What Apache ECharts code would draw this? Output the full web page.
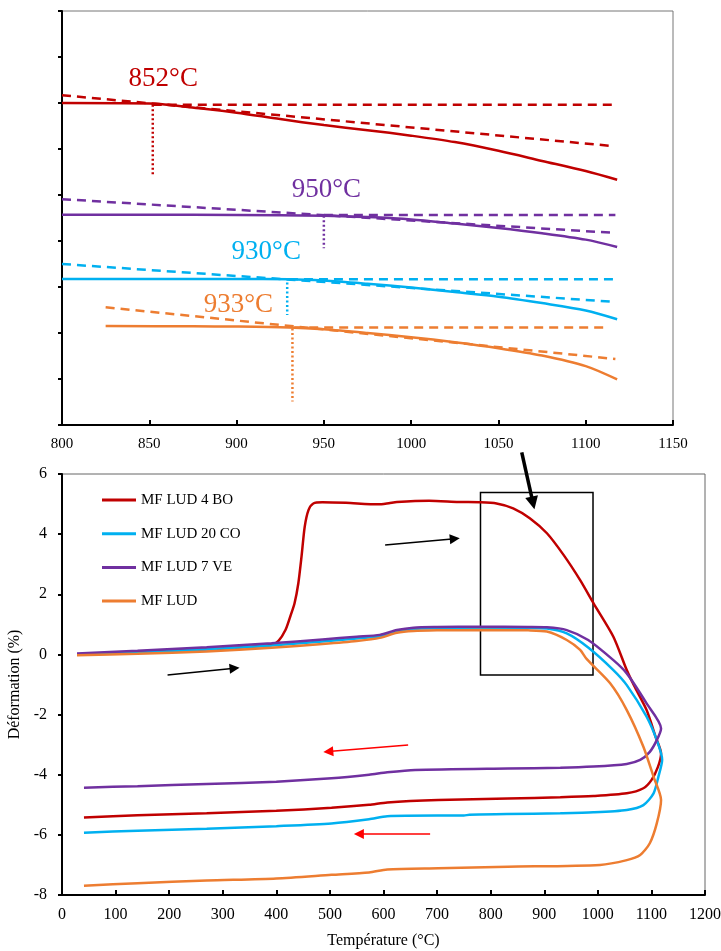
<!DOCTYPE html>
<html><head><meta charset="utf-8">
<script src="https://cdn.jsdelivr.net/npm/echarts/dist/echarts.min.js"></script>
<style>html,body{margin:0;padding:0;background:#fff}#c{width:721px;height:951px}</style>
</head><body><div id="c"></div>
<script>
// ---------- Top chart: zoom of the transition region (offset curves) ----------
const zoomTicks = [800, 850, 900, 950, 1000, 1050, 1100, 1150];
const zRedT = [800, 850, 880, 900, 925, 950, 975, 1000, 1025, 1050, 1075, 1100, 1118];
const zRedV = [7.00, 6.99, 6.88, 6.79, 6.65, 6.52, 6.41, 6.29, 6.15, 5.96, 5.74, 5.52, 5.33];
const zPurT = [800, 850, 900, 950, 975, 1000, 1025, 1050, 1075, 1100, 1118];
const zPurV = [4.57, 4.57, 4.565, 4.55, 4.52, 4.47, 4.38, 4.285, 4.17, 4.03, 3.87];
const zCyaT = [800, 850, 900, 930, 950, 975, 1000, 1025, 1050, 1075, 1100, 1118];
const zCyaV = [3.175, 3.175, 3.175, 3.17, 3.14, 3.07, 2.99, 2.89, 2.79, 2.65, 2.49, 2.30];
const zOraT = [825, 875, 900, 930, 950, 975, 1000, 1025, 1050, 1075, 1100, 1118];
const zOraV = [2.15, 2.145, 2.14, 2.12, 2.08, 2.00, 1.91, 1.80, 1.67, 1.51, 1.28, 0.99];
// sloped tangents (start / end)
const slopeT = [[800, 1114], [800, 1115], [800, 1115], [825, 1117]];
const slopeV = [[7.17, 6.07], [4.91, 4.18], [3.50, 2.68], [2.56, 1.435]];
// horizontal tangents
const flatT = [[852, 1117], [950, 1117], [930, 1117], [933, 1112]];
const flatV = [6.96, 4.565, 3.167, 2.12];
// dotted onset markers
const onsetT = [852, 950, 929, 932];
const onsetTopV = [6.96, 4.55, 3.10, 2.10];
const onsetBotV = [5.43, 3.84, 2.39, 0.51];
const onsetLabels = ['852°C', '950°C', '930°C', '933°C'];
const labelT = [858, 951.5, 917, 901];
const labelV = [7.52, 5.11, 3.77, 2.61];

// ---------- Bottom chart: dilatometry curves ----------
const names = ['MF LUD 4 BO', 'MF LUD 20 CO', 'MF LUD 7 VE', 'MF LUD'];
const colors = ['#C00000', '#00B0F0', '#7030A0', '#ED7D31'];
const redT = [28, 100, 200, 300, 391, 404, 417, 426, 434, 441, 447, 453, 460, 469, 486, 530, 590, 610, 625, 685, 740, 780, 811, 842, 873, 905, 936, 967, 992, 1029, 1054, 1068, 1091, 1108, 1118, 1112, 1100, 1085, 1054, 992, 930, 832, 702, 607, 573, 503, 400, 270, 141, 41];
const redV = [0.0, 0.05, 0.12, 0.2, 0.31, 0.45, 0.81, 1.26, 1.70, 2.36, 3.25, 4.25, 4.8, 5.02, 5.06, 5.04, 4.99, 5.03, 5.07, 5.11, 5.07, 5.06, 5.02, 4.86, 4.53, 4.03, 3.31, 2.47, 1.70, 0.59, -0.52, -1.05, -1.85, -2.75, -3.30, -3.75, -4.18, -4.45, -4.62, -4.71, -4.75, -4.79, -4.84, -4.92, -5.0, -5.1, -5.2, -5.28, -5.35, -5.42];
const cyaT = [28, 141, 270, 391, 486, 550, 593, 625, 656, 700, 780, 870, 905, 942, 982, 1029, 1054, 1091, 1110, 1120, 1113, 1104, 1085, 1054, 992, 930, 830, 760, 750, 700, 607, 573, 503, 400, 270, 141, 41];
const cyaV = [0.0, 0.06, 0.17, 0.3, 0.43, 0.53, 0.60, 0.77, 0.85, 0.87, 0.88, 0.88, 0.86, 0.70, 0.23, -0.52, -1.02, -2.07, -2.85, -3.50, -4.07, -4.62, -5.01, -5.17, -5.25, -5.28, -5.31, -5.33, -5.36, -5.36, -5.38, -5.48, -5.62, -5.71, -5.8, -5.86, -5.93];
const purT = [28, 141, 270, 391, 486, 550, 593, 625, 656, 700, 780, 870, 905, 942, 982, 1029, 1054, 1091, 1118, 1110, 1097, 1079, 1054, 992, 930, 832, 659, 607, 573, 503, 400, 270, 141, 41];
const purV = [0.03, 0.12, 0.24, 0.37, 0.5, 0.59, 0.65, 0.81, 0.89, 0.91, 0.92, 0.91, 0.90, 0.81, 0.48, -0.19, -0.63, -1.63, -2.46, -2.85, -3.24, -3.51, -3.64, -3.73, -3.77, -3.79, -3.84, -3.92, -4.0, -4.12, -4.23, -4.31, -4.38, -4.43];
const oraT = [28, 141, 270, 391, 486, 550, 593, 625, 656, 700, 780, 870, 905, 942, 967, 979, 1023, 1054, 1085, 1104, 1118, 1110, 1097, 1079, 1054, 1004, 832, 702, 607, 573, 503, 400, 270, 141, 41];
const oraV = [-0.03, 0.02, 0.1, 0.22, 0.35, 0.45, 0.55, 0.72, 0.78, 0.80, 0.81, 0.80, 0.76, 0.48, 0.15, -0.15, -0.96, -1.85, -3.07, -4.07, -4.84, -5.62, -6.28, -6.67, -6.84, -7.0, -7.06, -7.11, -7.15, -7.25, -7.33, -7.45, -7.52, -7.61, -7.69];
const xTicks = [0, 100, 200, 300, 400, 500, 600, 700, 800, 900, 1000, 1100, 1200];
const yTicks = [-8, -6, -4, -2, 0, 2, 4, 6];
// annotations (data units of the bottom chart)
const zoomBoxT = [781, 991];
const zoomBoxV = [5.39, -0.68];
const heatArrowsT = [[197, 322], [603, 733]];
const heatArrowsV = [[-0.68, -0.46], [3.64, 3.85]];
const coolArrowsT = [[646, 497], [687, 554]];
const coolArrowsV = [[-3.01, -3.23], [-5.97, -5.97]];
const bigArrowT = [858, 879];
const bigArrowV = [6.72, 5.04];

const FONT = '"Liberation Serif", "Times New Roman", serif';
const pairs = (T, V) => T.map((t, i) => [t, V[i]]);
const plain = v => String(v);

const chart = echarts.init(document.getElementById('c'), null, {renderer: 'canvas'});

const axisLine = {show: true, onZero: false, lineStyle: {color: '#000', width: 2}};
const series = [];

// top chart series
const zSolids = [[zRedT, zRedV], [zPurT, zPurV], [zCyaT, zCyaV], [zOraT, zOraV]];
const zColors = ['#C00000', '#7030A0', '#00B0F0', '#ED7D31'];
zSolids.forEach((s, k) => {
  const c = zColors[k];
  series.push({type: 'line', xAxisIndex: 0, yAxisIndex: 0, data: pairs(s[0], s[1]), smooth: 0.3,
    symbol: 'none', lineStyle: {color: c, width: 2.5}, silent: true, z: 3});
  series.push({type: 'line', xAxisIndex: 0, yAxisIndex: 0, data: pairs(slopeT[k], slopeV[k]),
    symbol: 'none', lineStyle: {color: c, width: 2.5, type: [9, 6]}, silent: true, z: 2});
  series.push({type: 'line', xAxisIndex: 0, yAxisIndex: 0, data: pairs(flatT[k], [flatV[k], flatV[k]]),
    symbol: 'none', lineStyle: {color: c, width: 2.5, type: [9, 6]}, silent: true, z: 2});
  series.push({type: 'line', xAxisIndex: 0, yAxisIndex: 0, data: pairs([onsetT[k], onsetT[k]], [onsetTopV[k], onsetBotV[k]]),
    symbol: 'none', lineStyle: {color: c, width: 2.5, type: [2, 2.5]}, silent: true, z: 2});
  series.push({type: 'scatter', xAxisIndex: 0, yAxisIndex: 0, data: [[labelT[k], labelV[k]]],
    symbolSize: 0, itemStyle: {color: c}, silent: true, z: 5,
    label: {show: true, position: 'inside', formatter: onsetLabels[k], color: c, opacity: 1,
      textBorderWidth: 0, fontSize: 27, fontFamily: FONT}});
});

// bottom chart series
const bData = [[redT, redV], [cyaT, cyaV], [purT, purV], [oraT, oraV]];
bData.forEach((s, k) => {
  series.push({name: names[k], type: 'line', xAxisIndex: 1, yAxisIndex: 1, data: pairs(s[0], s[1]),
    smooth: 0.25, symbol: 'none', lineStyle: {color: colors[k], width: 2.5}, itemStyle: {color: colors[k]},
    silent: true, z: 3});
});

// annotation overlay
const mkLines = (TT, VV) => TT.map((t, i) => [{coord: [t[0], VV[i][0]]}, {coord: [t[1], VV[i][1]]}]);
const arrowSeries = (data, color, width, size) => ({type: 'line', xAxisIndex: 2, yAxisIndex: 2, data: [],
  silent: true, itemStyle: {color: color}, lineStyle: {color: color},
  markLine: {silent: true, symbol: ['none', 'triangle'], symbolSize: size, label: {show: false},
    itemStyle: {color: color}, lineStyle: {color: color, width: width, type: 'solid'},
    emphasis: {disabled: true}, data: data}});
series.push({type: 'line', xAxisIndex: 2, yAxisIndex: 2, data: [], silent: true,
  markArea: {silent: true, itemStyle: {color: 'transparent', borderColor: '#000', borderWidth: 1.5},
    label: {show: false}, emphasis: {disabled: true},
    data: [[{coord: [zoomBoxT[0], zoomBoxV[0]]}, {coord: [zoomBoxT[1], zoomBoxV[1]]}]]}});
series.push(arrowSeries(mkLines(heatArrowsT, heatArrowsV), '#000', 1.5, 10));
series.push(arrowSeries(mkLines(coolArrowsT, coolArrowsV), '#FF0000', 1.5, 10));
series.push(arrowSeries(mkLines([bigArrowT], [bigArrowV]), '#000', 3.5, 13));

const option = {
  animation: false,
  backgroundColor: '#fff',
  textStyle: {fontFamily: FONT},
  grid: [
    {left: 62, right: 48, top: 11, height: 414, show: true, borderColor: '#777', borderWidth: 1, backgroundColor: 'transparent', outerBoundsMode: 'none'},
    {left: 62, right: 16, top: 474, bottom: 56, show: true, borderColor: '#666', borderWidth: 1, backgroundColor: 'transparent', outerBoundsMode: 'none'},
    {left: 62, right: 16, top: 444, bottom: 56, show: false, outerBoundsMode: 'none'}
  ],
  xAxis: [
    {gridIndex: 0, type: 'value', min: zoomTicks[0], max: zoomTicks[zoomTicks.length - 1], interval: 50,
      axisLine: axisLine, axisTick: {show: true, inside: true, length: 5, lineStyle: {color: '#000', width: 2}},
      splitLine: {show: false},
      axisLabel: {color: '#000', fontSize: 15, fontFamily: FONT, margin: 12, hideOverlap: false, formatter: plain}},
    {gridIndex: 1, type: 'value', min: xTicks[0], max: xTicks[xTicks.length - 1], interval: 100,
      axisLine: axisLine, axisTick: {show: true, inside: true, length: 5, lineStyle: {color: '#000', width: 2}},
      splitLine: {show: false},
      axisLabel: {color: '#000', fontSize: 16, fontFamily: FONT, margin: 12, hideOverlap: false, formatter: plain},
      name: 'Température (°C)', nameLocation: 'middle', nameGap: 38,
      nameTextStyle: {color: '#000', fontSize: 16, fontFamily: FONT}},
    {gridIndex: 2, type: 'value', min: 0, max: 1200, show: false}
  ],
  yAxis: [
    {gridIndex: 0, type: 'value', min: 0, max: 9, interval: 1,
      axisLine: axisLine, axisTick: {show: true, inside: false, length: 4, lineStyle: {color: '#000', width: 2}},
      splitLine: {show: false}, axisLabel: {show: false}},
    {gridIndex: 1, type: 'value', min: yTicks[0], max: yTicks[yTicks.length - 1], interval: 2,
      axisLine: axisLine, axisTick: {show: true, inside: false, length: 4, lineStyle: {color: '#000', width: 2}},
      splitLine: {show: false},
      axisLabel: {color: '#000', fontSize: 16, fontFamily: FONT, margin: 15, hideOverlap: false, formatter: plain},
      name: 'Déformation (%)', nameLocation: 'middle', nameGap: 22, nameRotate: 90,
      nameTextStyle: {color: '#000', fontSize: 16, fontFamily: FONT}},
    {gridIndex: 2, type: 'value', min: -8, max: 7, show: false}
  ],
  legend: {
    show: true, orient: 'vertical', left: 97, top: 486, data: names,
    icon: 'rect', itemWidth: 34, itemHeight: 3, itemGap: 15.7,
    textStyle: {color: '#000', fontSize: 15, fontFamily: FONT, lineHeight: 18},
    selectedMode: false
  },
  series: series
};
chart.setOption(option);
</script></body></html>
